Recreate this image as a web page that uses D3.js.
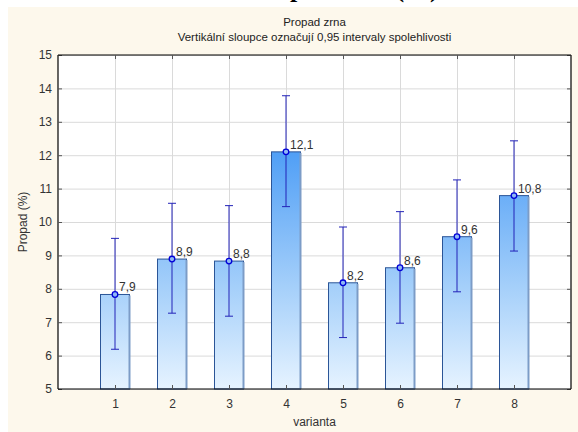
<!DOCTYPE html>
<html>
<head>
<meta charset="utf-8">
<script src="https://cdn.jsdelivr.net/npm/d3@7"></script>
<style>
  body { margin: 0; background: #fff; }
  svg { display: block; font-family: "Liberation Sans", Arial, sans-serif; }
</style>
</head>
<body>
<div id="chart"></div>
<script>
// values
const varianty = [1, 2, 3, 4, 5, 6, 7, 8];
const means = [7.83, 8.89, 8.83, 12.10, 8.18, 8.63, 9.56, 10.79];
const upper = [9.51, 10.56, 10.49, 13.78, 9.85, 10.31, 11.26, 12.43];
const lower = [6.19, 7.27, 7.18, 10.46, 6.54, 6.97, 7.91, 9.13];
const labels = ["7,9", "8,9", "8,8", "12,1", "8,2", "8,6", "9,6", "10,8"];
const yTicks = [5, 6, 7, 8, 9, 10, 11, 12, 13, 14, 15];

const W = 578, H = 432;
const pLeft = 58, pRight = 571, pTop = 55, pBottom = 389;

const svg = d3.select("#chart").append("svg")
    .attr("width", W)
    .attr("height", H);

// cream panel
svg.append("rect")
    .attr("x", 8).attr("y", 7)
    .attr("width", W - 8).attr("height", H - 7)
    .attr("fill", "#fdf8ec");

// the cut off heading of the document above the chart
svg.append("text")
    .attr("x", 250).attr("y", -3)
    .attr("font-family", "Liberation Serif, Times New Roman, serif")
    .attr("font-weight", "bold")
    .attr("font-size", 26)
    .text("Propad zrna (%)");

const x = d3.scaleLinear().domain([0, 9]).range([pLeft, pRight]);
const y = d3.scaleLinear().domain([5, 15]).range([pBottom, pTop]);

// plot background
svg.append("rect")
    .attr("x", pLeft).attr("y", pTop)
    .attr("width", pRight - pLeft).attr("height", pBottom - pTop)
    .attr("fill", "#fff");

// grid
svg.append("g")
    .attr("transform", `translate(${pLeft},0)`)
    .call(d3.axisLeft(y).tickValues(yTicks).tickSize(-(pRight - pLeft)).tickFormat(""))
    .call(g => g.select(".domain").remove())
    .selectAll("line").attr("stroke", "#dadada");

svg.append("g")
    .attr("transform", `translate(0,${pBottom})`)
    .call(d3.axisBottom(x).tickValues(varianty).tickSize(-(pBottom - pTop)).tickFormat(""))
    .call(g => g.select(".domain").remove())
    .selectAll("line").attr("stroke", "#dadada");

// gradient over the whole plot height
const defs = svg.append("defs");
const grad = defs.append("linearGradient")
    .attr("id", "barGrad")
    .attr("gradientUnits", "userSpaceOnUse")
    .attr("x1", 0).attr("x2", 0)
    .attr("y1", y(15)).attr("y2", y(5));
grad.append("stop").attr("offset", "0%").attr("stop-color", "#3a8ff4");
grad.append("stop").attr("offset", "30%").attr("stop-color", "#52a0f6");
grad.append("stop").attr("offset", "70%").attr("stop-color", "#a6d0fa");
grad.append("stop").attr("offset", "100%").attr("stop-color", "#e6f3ff");

const bw = 29;

// bars
svg.selectAll("rect.bar")
    .data(varianty)
    .enter()
    .append("rect")
    .attr("class", "bar")
    .attr("x", (d, i) => x(d) - bw / 2)
    .attr("y", (d, i) => y(means[i]))
    .attr("width", bw)
    .attr("height", (d, i) => y(5) - y(means[i]))
    .attr("fill", "url(#barGrad)")
    .attr("stroke", "#2b5597")
    .attr("stroke-width", 1);

// lighter right edge of each bar
svg.selectAll("line.edge")
    .data(varianty)
    .enter()
    .append("line")
    .attr("class", "edge")
    .attr("x1", d => x(d) + bw / 2)
    .attr("x2", d => x(d) + bw / 2)
    .attr("y1", (d, i) => y(means[i]) + 1)
    .attr("y2", y(5))
    .attr("stroke", "#7c9cc7")
    .attr("stroke-width", 2);

// error bars
const err = svg.append("g").attr("stroke", "#2323b8").attr("stroke-width", 1);
varianty.forEach((d, i) => {
    const cx = x(d);
    err.append("line")
        .attr("x1", cx).attr("x2", cx)
        .attr("y1", y(upper[i])).attr("y2", y(lower[i]));
    err.append("line")
        .attr("x1", cx - 4).attr("x2", cx + 4)
        .attr("y1", y(upper[i])).attr("y2", y(upper[i]));
    err.append("line")
        .attr("x1", cx - 4).attr("x2", cx + 4)
        .attr("y1", y(lower[i])).attr("y2", y(lower[i]));
});

// mean points
svg.selectAll("circle.mean")
    .data(varianty)
    .enter()
    .append("circle")
    .attr("class", "mean")
    .attr("cx", d => x(d))
    .attr("cy", (d, i) => y(means[i]))
    .attr("r", 2.8)
    .attr("fill", "#8fb8f5")
    .attr("stroke", "#0000d8")
    .attr("stroke-width", 1.3);

// value labels
svg.selectAll("text.val")
    .data(varianty)
    .enter()
    .append("text")
    .attr("class", "val")
    .attr("x", d => x(d) + 4)
    .attr("y", (d, i) => y(means[i]) - 3)
    .attr("font-size", 12)
    .attr("fill", "#333")
    .text((d, i) => labels[i]);

// axes with inward ticks
const yAxis = svg.append("g")
    .attr("transform", `translate(${pLeft},0)`)
    .call(d3.axisLeft(y).tickValues(yTicks).tickSize(-4).tickPadding(6));
const yAxisR = svg.append("g")
    .attr("transform", `translate(${pRight},0)`)
    .call(d3.axisRight(y).tickValues(yTicks).tickSize(-4).tickFormat(""));
const xAxis = svg.append("g")
    .attr("transform", `translate(0,${pBottom})`)
    .call(d3.axisBottom(x).tickValues(varianty).tickSize(-4).tickPadding(10));
const xAxisT = svg.append("g")
    .attr("transform", `translate(0,${pTop})`)
    .call(d3.axisTop(x).tickValues(varianty).tickSize(-4).tickFormat(""));

[yAxis, yAxisR, xAxis, xAxisT].forEach(g => {
    g.select(".domain").attr("stroke", "#000").attr("stroke-width", 1.2);
    g.selectAll(".tick line").attr("stroke", "#555");
    g.selectAll(".tick text")
        .attr("font-size", 12)
        .attr("fill", "#333")
        .attr("font-family", "Liberation Sans, Arial, sans-serif");
});
// plain frame lines without the end stubs
[yAxis, yAxisR].forEach(g => g.select(".domain").attr("d", `M0,${pTop}V${pBottom}`));
[xAxis, xAxisT].forEach(g => g.select(".domain").attr("d", `M${pLeft},0H${pRight}`));

// titles
svg.append("text")
    .attr("x", (pLeft + pRight) / 2).attr("y", 26)
    .attr("text-anchor", "middle")
    .attr("font-size", 11.5)
    .attr("fill", "#222")
    .text("Propad zrna");
svg.append("text")
    .attr("x", (pLeft + pRight) / 2).attr("y", 41)
    .attr("text-anchor", "middle")
    .attr("font-size", 11.5)
    .attr("fill", "#222")
    .text("Vertikální sloupce označují 0,95 intervaly spolehlivosti");

svg.append("text")
    .attr("x", (pLeft + pRight) / 2).attr("y", 426)
    .attr("text-anchor", "middle")
    .attr("font-size", 12)
    .attr("fill", "#333")
    .text("varianta");

svg.append("text")
    .attr("transform", `translate(27,${(pTop + pBottom) / 2}) rotate(-90)`)
    .attr("text-anchor", "middle")
    .attr("font-size", 12)
    .attr("fill", "#333")
    .text("Propad (%)");
</script>
</body>
</html>
